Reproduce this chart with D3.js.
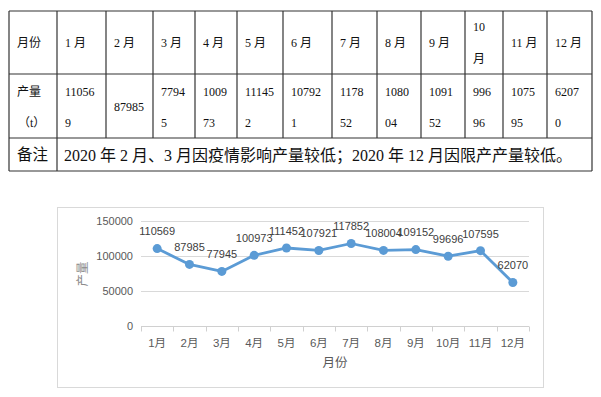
<!DOCTYPE html>
<html><head><meta charset="utf-8">
<script src="https://cdn.jsdelivr.net/npm/d3@7/dist/d3.min.js"></script>
<style>body{margin:0;background:#fff}svg{display:block}</style>
</head><body>
<svg id="c" width="601" height="397"></svg>
<script>
// ---- data ----
const months = ["1月","2月","3月","4月","5月","6月","7月","8月","9月","10月","11月","12月"];
const production = [110569, 87985, 77945, 100973, 111452, 107921, 117852, 108004, 109152, 99696, 107595, 62070];
const yTicks = [0, 50000, 100000, 150000];
const rowHeader = ["月份", "产量", "（t）"];
const noteLabel = "备注";
const noteText = "2020 年 2 月、3 月因疫情影响产量较低；2020 年 12 月因限产产量较低。";
const xTitle = "月份";
const yTitle = "产量";

// ---- layout ----
const colEdges = [9, 57, 106, 153, 195, 237, 283, 332, 377, 421, 465, 503, 547, 592];
const rowEdges = [11, 74, 138, 171];
const lineChars = [5,5,4,4,5,5,4,4,4,3,4,4];
const serif = "'Liberation Serif','Noto Sans CJK SC',serif";
const sans = "'Liberation Sans','Noto Sans CJK SC',sans-serif";

const svg = d3.select("#c");
svg.append("rect").attr("width",601).attr("height",397).attr("fill","#fff");

// ---- table ----
const t = svg.append("g");
const tc = "#111";
rowEdges.forEach(y => t.append("line").attr("x1",colEdges[0]).attr("x2",colEdges[colEdges.length-1])
  .attr("y1",y).attr("y2",y).attr("stroke","#333").attr("stroke-width",1.2));
colEdges.forEach((x,i) => {
  const full = (i===0 || i===1 || i===colEdges.length-1);
  t.append("line").attr("x1",x).attr("x2",x).attr("y1",rowEdges[0])
   .attr("y2", full ? rowEdges[3] : rowEdges[2]).attr("stroke","#333").attr("stroke-width",1.2);
});
function txt(x,y,s,size,family){
  return t.append("text").attr("x",x).attr("y",y).attr("dy","0.35em").attr("fill",tc)
    .style("font-family",family||serif).style("font-size",size+"px").text(s);
}
txt(colEdges[0]+8, 43, rowHeader[0], 12);
txt(colEdges[0]+8, 92, rowHeader[1], 12);
txt(colEdges[0]+9, 123, rowHeader[2], 12);
months.forEach((m,i) => {
  const x = colEdges[i+1]+8;
  const mm = m.replace("月"," 月");
  if ((colEdges[i+2]-colEdges[i+1]) < 40) {
    txt(x, 27, m.replace("月",""), 12);
    txt(x, 59, "月", 12);
  } else {
    txt(x, 43, mm, 12);
  }
  const s = String(production[i]);
  const n = lineChars[i];
  if (s.length <= n) {
    txt(x, 107, s, 12);
  } else {
    txt(x, 92, s.slice(0,n), 12);
    txt(x, 123, s.slice(n), 12);
  }
});
txt(colEdges[0]+8, 155, noteLabel, 15.5);
txt(colEdges[1]+7, 155, noteText, 16);

// ---- chart ----
const ch = svg.append("g");
ch.append("rect").attr("x",57.5).attr("y",207.5).attr("width",486).attr("height",180)
  .attr("fill","#fff").attr("stroke","#d9d9d9");
const x = d3.scaleBand().domain(months).range([141, 529]);
const y = d3.scaleLinear().domain([0,150000]).range([326, 221]);

ch.append("g").selectAll("line").data(yTicks.filter(d=>d>0)).join("line")
  .attr("x1",141).attr("x2",529).attr("y1",d=>y(d)+0.5).attr("y2",d=>y(d)+0.5)
  .attr("stroke","#d9d9d9");
ch.append("g").selectAll("text").data(yTicks).join("text")
  .attr("x",133).attr("y",d=>y(d)).attr("dy","0.35em").attr("text-anchor","end")
  .attr("fill","#595959").style("font-family",sans).style("font-size","11px")
  .text(d=>d);
const xa = ch.append("g").attr("transform","translate(0,326.5)");
xa.append("line").attr("x1",141).attr("x2",529).attr("stroke","#d0d0d0");
const bounds = months.map(m=>x(m)).concat([x.range()[1]]);
xa.selectAll("line.tk").data(bounds).join("line").attr("class","tk")
  .attr("x1",d=>Math.round(d)+0.5).attr("x2",d=>Math.round(d)+0.5).attr("y1",0).attr("y2",5)
  .attr("stroke","#d0d0d0");
xa.selectAll("text").data(months).join("text")
  .attr("x",d=>x(d)+x.bandwidth()/2).attr("y",16).attr("dy","0.35em").attr("text-anchor","middle")
  .attr("fill","#595959").style("font-family",sans).style("font-size","11.5px").text(d=>d);
ch.append("text").attr("x",335).attr("y",363).attr("dy","0.35em").attr("text-anchor","middle")
  .attr("fill","#595959").style("font-family",sans).style("font-size","12.5px").text(xTitle);
ch.append("text").attr("transform","translate(83,274) rotate(-90)").attr("dy","0.35em")
  .attr("text-anchor","middle").attr("fill","#8c8c8c").style("font-family",sans)
  .style("font-size","12.5px").text(yTitle);

const pts = months.map((m,i)=>({m, v:production[i]}));
ch.append("path").datum(pts)
  .attr("d", d3.line().x(d=>x(d.m)+x.bandwidth()/2).y(d=>y(d.v)))
  .attr("fill","none").attr("stroke","#5B9BD5").attr("stroke-width",2.8)
  .attr("stroke-linejoin","round").attr("stroke-linecap","round");
ch.append("g").selectAll("circle").data(pts).join("circle")
  .attr("cx",d=>x(d.m)+x.bandwidth()/2).attr("cy",d=>y(d.v)).attr("r",4.5).attr("fill","#5B9BD5");
ch.append("g").selectAll("text").data(pts).join("text")
  .attr("x",d=>x(d.m)+x.bandwidth()/2).attr("y",d=>y(d.v)-17).attr("dy","0.35em")
  .attr("text-anchor","middle").attr("fill","#404040").style("font-family",sans)
  .style("font-size","11px").text(d=>d.v);
</script>
</body></html>
